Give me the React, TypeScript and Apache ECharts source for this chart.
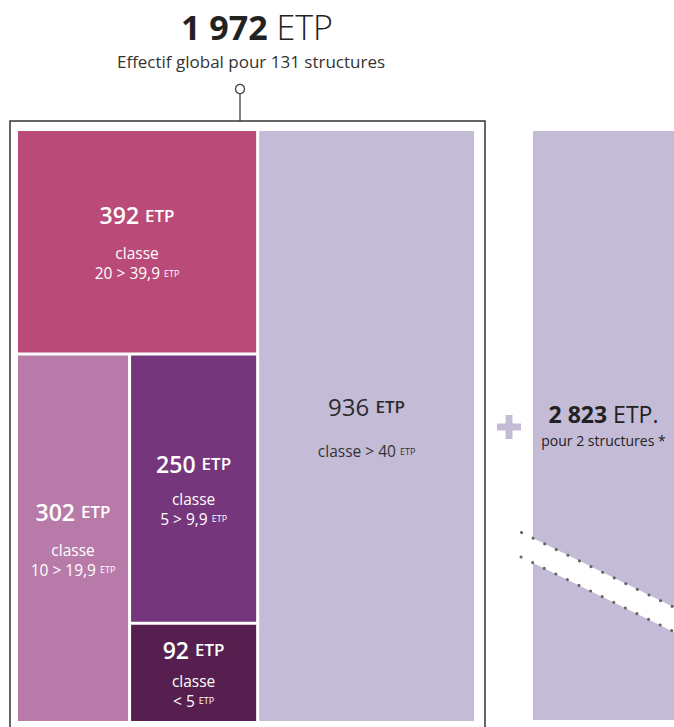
import React, { useEffect, useRef } from "react";
import * as echarts from "echarts";

// ---- data ----
const totalEtp = 1972;
const totalStructures = 131;
const classLabels = ["20 > 39,9", "10 > 19,9", "5 > 9,9", "< 5", "> 40"];
const etpValues = [392, 302, 250, 92, 936];
const extraEtp = 2823;
const extraStructures = 2;

// ---- styles ----
const tileColors = ["#BA4A77", "#B87BA9", "#76367C", "#561F4F", "#C4BCD7"];
const FONT = "'Open Sans', 'Noto Sans', sans-serif";
const fmt = (n: number) => String(n).replace(/\B(?=(\d{3})+(?!\d))/g, " ");
const spacers = ["g13", "g13", "g10", "g6", "g20"];

const rich: any = {
  v: { fontSize: 23, fontWeight: 600, color: "#fff", lineHeight: 30, fontFamily: FONT },
  u: { fontSize: 17, fontWeight: 600, color: "#fff", lineHeight: 30, fontFamily: FONT },
  t: { fontSize: 15.5, color: "#fff", lineHeight: 20, fontFamily: FONT },
  s: { fontSize: 9, color: "#fff", lineHeight: 20, fontFamily: FONT },
  vd: { fontSize: 24, fontWeight: 400, color: "#2b2b2b", lineHeight: 30, fontFamily: FONT },
  ud: { fontSize: 17, fontWeight: 600, color: "#2b2b2b", lineHeight: 30, fontFamily: FONT },
  td: { fontSize: 15.5, color: "#333", lineHeight: 20, fontFamily: FONT },
  sd: { fontSize: 9, color: "#333", lineHeight: 20, fontFamily: FONT },
  g6: { fontSize: 2, lineHeight: 6 },
  g10: { fontSize: 2, lineHeight: 10 },
  g13: { fontSize: 2, lineHeight: 13 },
  g20: { fontSize: 2, lineHeight: 20 },
  b: { fontSize: 23, fontWeight: 700, color: "#222", lineHeight: 30, fontFamily: FONT },
  r: { fontSize: 23, fontWeight: 400, color: "#222", lineHeight: 30, fontFamily: FONT },
  p: { fontSize: 14, color: "#222", lineHeight: 24, fontFamily: FONT },
};

function contentHeight(text: string) {
  return text.split("\n").reduce((sum, line) => {
    let lh = 0;
    line.replace(/\{(\w+)\|/g, (_m: string, k: string) => {
      lh = Math.max(lh, (rich[k] && rich[k].lineHeight) || 0);
      return "";
    });
    return sum + lh;
  }, 0);
}

function leafLabel(i: number) {
  const v = etpValues[i];
  const c = classLabels[i];
  if (i === 4) {
    return `{vd|${fmt(v)} }{ud|ETP}\n{${spacers[i]}| }\n{td|classe ${c} }{sd|ETP}`;
  }
  return `{v|${fmt(v)} }{u|ETP}\n{${spacers[i]}| }\n{t|classe}\n{t|${c} }{s|ETP}`;
}

function leaf(i: number) {
  return {
    name: "classe " + classLabels[i],
    value: etpValues[i],
    itemStyle: { color: tileColors[i] },
    label: { formatter: leafLabel(i) },
  };
}

export default function App() {
  const ref = useRef<HTMLDivElement>(null);
  useEffect(() => {
    if (!ref.current) return;
    const chart = echarts.init(ref.current, null, { renderer: "svg" });
    const tree = [
      {
        name: "",
        children: [leaf(0), { name: "", children: [leaf(1), { name: "", children: [leaf(2), leaf(3)] }] }],
      },
      leaf(4),
    ];
    const common: any = {
      type: "treemap",
      roam: false,
      nodeClick: false,
      silent: true,
      sort: false,
      breadcrumb: { show: false },
      itemStyle: { borderWidth: 0, gapWidth: 3, borderColor: "#fff" },
      label: {
        show: true,
        position: "inside",
        align: "center",
        verticalAlign: "middle",
        overflow: "none",
        padding: 0,
        fontFamily: FONT,
        rich,
      },
      labelLayout: (p: any) => {
        if (!p.text || !p.rect) return {};
        return { dy: (p.rect.height - contentHeight(String(p.text))) / 2 };
      },
      upperLabel: { show: false },
      emphasis: { disabled: true },
    };
    const dotLine = (x1: number, y1: number, x2: number, y2: number) => ({
      type: "line",
      z: 50,
      shape: { x1, y1, x2, y2 },
      style: { stroke: "#666", lineWidth: 3, lineCap: "round", lineDash: [0.1, 12.8] },
    });
    chart.setOption({
      animation: false,
      series: [
        { ...common, left: 18, top: 131, width: 456, height: 590, data: tree },
        {
          ...common,
          left: 533,
          top: 131,
          width: 141,
          height: 589,
          data: [
            {
              name: "extra",
              value: extraEtp,
              itemStyle: { color: tileColors[4] },
              label: {
                formatter: `{b|${fmt(extraEtp)} }{r|ETP.}\n{p|pour ${extraStructures} structures *}`,
              },
            },
          ],
        },
      ],
      graphic: {
        elements: [
          {
            type: "text",
            x: 257,
            y: 27,
            z: 50,
            style: {
              text: `{a|${fmt(totalEtp)} }{b|ETP}`,
              align: "center",
              verticalAlign: "middle",
              rich: {
                a: { fontSize: 34, fontWeight: 700, fill: "#222", fontFamily: FONT },
                b: { fontSize: 34, fontWeight: 300, fill: "#222", fontFamily: FONT },
              },
            },
          },
          {
            type: "text",
            x: 251,
            y: 61,
            z: 50,
            style: {
              text: `Effectif global pour ${totalStructures} structures`,
              align: "center",
              verticalAlign: "middle",
              fontSize: 17,
              fontFamily: FONT,
              fill: "#333",
            },
          },
          {
            type: "line",
            z: 50,
            shape: { x1: 240, y1: 93.5, x2: 240, y2: 121 },
            style: { stroke: "#333", lineWidth: 1.2 },
          },
          {
            type: "circle",
            z: 50,
            shape: { cx: 240, cy: 89, r: 4.5 },
            style: { fill: "#fff", stroke: "#333", lineWidth: 1.2 },
          },
          {
            type: "rect",
            z: 1,
            shape: { x: 10, y: 121, width: 475, height: 700 },
            style: { fill: "none", stroke: "#333", lineWidth: 1.5 },
          },
          {
            type: "rect",
            z: 50,
            shape: { x: 497, y: 423.5, width: 24, height: 7 },
            style: { fill: "#C4BCD7" },
          },
          {
            type: "rect",
            z: 50,
            shape: { x: 505.5, y: 415, width: 7, height: 24 },
            style: { fill: "#C4BCD7" },
          },
          {
            type: "polygon",
            z: 49,
            shape: {
              points: [
                [520, 531.8],
                [676, 608.3],
                [676, 632.9],
                [520, 556.4],
              ],
            },
            style: { fill: "#fff" },
          },
          dotLine(521.5, 532.5, 680, 610.2),
          dotLine(521, 557, 680, 634.7),
        ],
      },
    });
    return () => chart.dispose();
  }, []);
  return <div ref={ref} style={{ width: 674, height: 727, position: "absolute", left: 0, top: 0 }} />;
}
